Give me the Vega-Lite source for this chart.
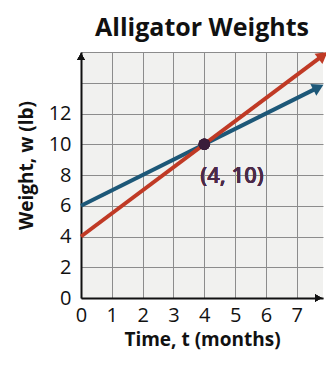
{
  "$schema": "https://vega.github.io/schema/vega-lite/v6.json",
  "width": 242,
  "height": 246,
  "autosize": {"type": "none"},
  "padding": {"left": 81, "top": 52, "right": 3, "bottom": 68},
  "background": "white",
  "title": {"text": "Alligator Weights", "font": "Open Sans", "fontSize": 25, "fontWeight": "bold", "color": "#111111", "anchor": "middle", "offset": 1},
  "config": {
    "view": {"stroke": null, "fill": "#f1f1ef"},
    "axis": {"gridColor": "#8c8c8c", "gridWidth": 1, "gridOpacity": 1, "domainColor": "#111111", "domainWidth": 2, "ticks": false, "labelFont": "Open Sans", "labelFontSize": 20, "labelColor": "#111111", "labelOverlap": false, "labelBound": false, "labelFlush": false, "format": "d", "titleFont": "Open Sans", "titleFontSize": 19, "titleFontWeight": "bold", "titleColor": "#111111"}
  },
  "data": {"values": [
    {"series": "blue", "t": 0, "w": 6},
    {"series": "blue", "t": 7.7, "w": 13.7},
    {"series": "red", "t": 0, "w": 4},
    {"series": "red", "t": 7.85, "w": 15.775}
  ]},
  "layer": [
    {
      "mark": {"type": "line", "strokeWidth": 4, "clip": false},
      "encoding": {
        "x": {"field": "t", "type": "quantitative", "scale": {"domain": [0, 7.85], "nice": false, "zero": false}, "axis": {"values": [0, 1, 2, 3, 4, 5, 6, 7], "tickCount": 30, "format": "d", "grid": true, "labelOverlap": false, "labelFlush": false, "labelPadding": 7, "title": "Time, t (months)", "titlePadding": 5}},
        "y": {"field": "w", "type": "quantitative", "scale": {"domain": [0, 16], "nice": false}, "axis": {"values": [0, 2, 4, 6, 8, 10, 12, 14, 16], "tickCount": 30, "format": "d", "grid": true, "labelOverlap": false, "labelFlush": false, "labelExpr": "datum.value <= 12 ? datum.label : ''", "labelPadding": 10, "title": "Weight, w (lb)", "titlePadding": 12, "titleY": 113}},
        "color": {"field": "series", "type": "nominal", "scale": {"domain": ["blue", "red"], "range": ["#1d5878", "#c03a25"]}, "legend": null},
        "detail": {"field": "series"}
      }
    },
    {
      "transform": [{"filter": "datum.series == 'red' && datum.t > 0"}],
      "mark": {"type": "point", "shape": "triangle-up", "filled": true, "size": 170, "angle": 53, "opacity": 1, "clip": false, "color": "#c03a25"},
      "encoding": {"x": {"field": "t", "type": "quantitative"}, "y": {"field": "w", "type": "quantitative"}}
    },
    {
      "transform": [{"filter": "datum.series == 'blue' && datum.t > 0"}],
      "mark": {"type": "point", "shape": "triangle-up", "filled": true, "size": 170, "angle": 63, "opacity": 1, "clip": false, "color": "#1d5878"},
      "encoding": {"x": {"field": "t", "type": "quantitative"}, "y": {"field": "w", "type": "quantitative"}}
    },
    {
      "mark": {"type": "point", "shape": "triangle-up", "filled": true, "size": 60, "opacity": 1, "clip": false, "color": "#111111"},
      "encoding": {"x": {"datum": 0, "type": "quantitative"}, "y": {"datum": 15.7, "type": "quantitative"}}
    },
    {
      "mark": {"type": "point", "shape": "triangle-right", "filled": true, "size": 60, "opacity": 1, "clip": false, "color": "#111111"},
      "encoding": {"x": {"datum": 7.7, "type": "quantitative"}, "y": {"datum": 0, "type": "quantitative"}}
    },
    {
      "mark": {"type": "point", "shape": "circle", "filled": true, "size": 130, "opacity": 1, "color": "#3a1d3a"},
      "encoding": {"x": {"datum": 4, "type": "quantitative"}, "y": {"datum": 10, "type": "quantitative"}}
    },
    {
      "mark": {"type": "text", "text": "(4, 10)", "align": "left", "baseline": "middle", "dx": -4, "dy": 32, "font": "Open Sans", "fontSize": 22, "fontWeight": 600, "color": "#4b2a48"},
      "encoding": {"x": {"datum": 4, "type": "quantitative"}, "y": {"datum": 10, "type": "quantitative"}}
    }
  ]
}
